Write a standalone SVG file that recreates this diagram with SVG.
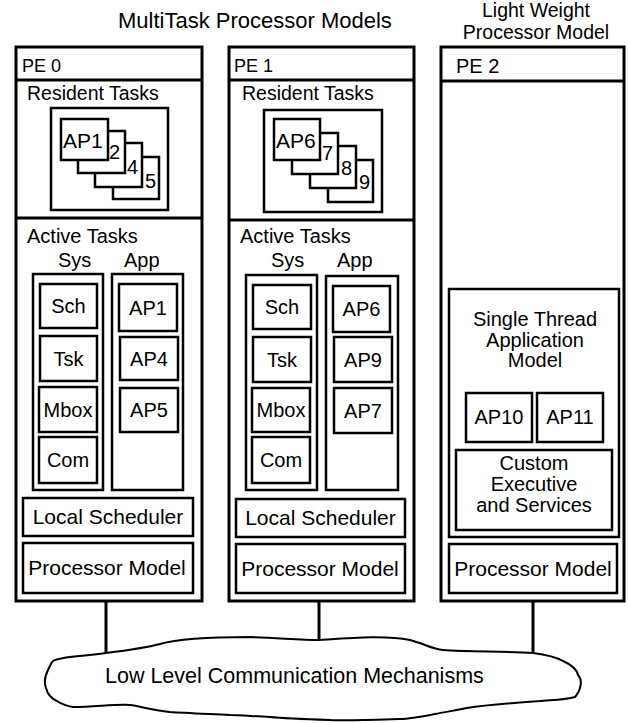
<svg xmlns="http://www.w3.org/2000/svg" width="628" height="723" viewBox="0 0 628 723">
<style>
text{font-family:"Liberation Sans",Arial,sans-serif;fill:#000}
.fr{fill:#fff;stroke:#000;stroke-width:3}
.bx{fill:#fff;stroke:#000;stroke-width:2.5}
.ln{stroke:#000;stroke-width:3;fill:none}
.t20{font-size:20px}
.t21{font-size:21px}
.t18{font-size:18px}
.c{text-anchor:middle}
</style>
<rect width="628" height="723" fill="#fff"/>
<g id="titles">
<text x="118" y="28" font-size="22">MultiTask Processor Models</text>
<text x="536" y="17" font-size="19.5" class="c">Light Weight</text>
<text x="536" y="39" font-size="19.5" class="c">Processor Model</text>
</g>
<g id="connectors">
<line class="ln" x1="106" y1="601" x2="106" y2="654"/>
<line class="ln" x1="319" y1="601" x2="319" y2="641"/>
<line class="ln" x1="533" y1="601" x2="533" y2="654"/>
</g>
<g id="pe0">
<rect class="fr" x="16" y="47" width="186" height="554"/>
<line class="ln" x1="16" y1="80" x2="202" y2="80"/>
<line class="ln" x1="16" y1="218" x2="202" y2="218"/>
<text x="22" y="72" class="t18">PE 0</text>
<g id="pe0-resident">
<text x="27" y="100" font-size="19.5">Resident Tasks</text>
<rect class="bx" x="51" y="108" width="117" height="102"/>
<rect class="bx" x="113" y="157" width="46" height="42"/>
<rect class="bx" x="95" y="143" width="47" height="44"/>
<rect class="bx" x="78" y="131" width="47" height="42"/>
<rect class="bx" x="61" y="119" width="47" height="41"/>
<text x="63" y="148" class="t21">AP1</text>
<text x="109" y="159" class="t20">2</text>
<text x="127" y="174" class="t20">4</text>
<text x="145" y="188" class="t20">5</text>
</g>
<g id="pe0-active">
<text x="27" y="243" class="t20">Active Tasks</text>
<text x="58" y="267" class="t20">Sys</text>
<text x="124" y="267" class="t20">App</text>
<rect class="bx" x="33" y="274" width="70" height="216"/>
<rect class="bx" x="112" y="274" width="71" height="216"/>
<g id="pe0-sch"><rect class="bx" x="40" y="284" width="57" height="44"/><text x="68.5" y="313" class="t20 c">Sch</text></g>
<g id="pe0-tsk"><rect class="bx" x="40" y="336" width="57" height="45"/><text x="68.5" y="366" class="t20 c">Tsk</text></g>
<g id="pe0-mbox"><rect class="bx" x="39" y="387" width="58" height="45"/><text x="68" y="417" class="t20 c">Mbox</text></g>
<g id="pe0-com"><rect class="bx" x="39" y="437" width="58" height="46"/><text x="68" y="467" class="t20 c">Com</text></g>
<g id="pe0-ap1"><rect class="bx" x="119" y="284" width="58" height="47"/><text x="148" y="315" class="t20 c">AP1</text></g>
<g id="pe0-ap4"><rect class="bx" x="120" y="337" width="58" height="43"/><text x="149" y="366" class="t20 c">AP4</text></g>
<g id="pe0-ap5"><rect class="bx" x="120" y="388" width="58" height="44"/><text x="149" y="417" class="t20 c">AP5</text></g>
</g>
<g id="pe0-sched"><rect class="bx" x="23" y="498" width="170" height="38"/><text x="108" y="524" class="t21 c">Local Scheduler</text></g>
<g id="pe0-proc"><rect class="bx" x="23" y="543" width="170" height="50"/><text x="107" y="575" class="t21 c">Processor Model</text></g>
</g>
<g id="pe1">
<rect class="fr" x="229" y="47" width="185" height="554"/>
<line class="ln" x1="229" y1="80" x2="414" y2="80"/>
<line class="ln" x1="229" y1="220" x2="414" y2="220"/>
<text x="234" y="72" class="t18">PE 1</text>
<g id="pe1-resident">
<text x="242" y="100" font-size="19.5">Resident Tasks</text>
<rect class="bx" x="264" y="110" width="118" height="102"/>
<rect class="bx" x="328" y="160" width="45" height="42"/>
<rect class="bx" x="310" y="146" width="46" height="42"/>
<rect class="bx" x="292" y="133" width="46" height="41"/>
<rect class="bx" x="274" y="119" width="46" height="41"/>
<text x="276" y="148" class="t21">AP6</text>
<text x="322" y="160" class="t20">7</text>
<text x="341" y="175" class="t20">8</text>
<text x="359" y="189" class="t20">9</text>
</g>
<g id="pe1-active">
<text x="240" y="243" class="t20">Active Tasks</text>
<text x="271" y="267" class="t20">Sys</text>
<text x="337" y="267" class="t20">App</text>
<rect class="bx" x="246" y="275" width="71" height="215"/>
<rect class="bx" x="326" y="276" width="72" height="214"/>
<g id="pe1-sch"><rect class="bx" x="253" y="285" width="58" height="44"/><text x="282" y="314" class="t20 c">Sch</text></g>
<g id="pe1-tsk"><rect class="bx" x="253" y="337" width="58" height="45"/><text x="282" y="367" class="t20 c">Tsk</text></g>
<g id="pe1-mbox"><rect class="bx" x="252" y="388" width="58" height="44"/><text x="281" y="417" class="t20 c">Mbox</text></g>
<g id="pe1-com"><rect class="bx" x="252" y="437" width="58" height="46"/><text x="281" y="467" class="t20 c">Com</text></g>
<g id="pe1-ap6"><rect class="bx" x="333" y="286" width="57" height="46"/><text x="361.5" y="316" class="t20 c">AP6</text></g>
<g id="pe1-ap9"><rect class="bx" x="334" y="337" width="58" height="45"/><text x="363" y="367" class="t20 c">AP9</text></g>
<g id="pe1-ap7"><rect class="bx" x="334" y="388" width="58" height="45"/><text x="363" y="418" class="t20 c">AP7</text></g>
</g>
<g id="pe1-sched"><rect class="bx" x="236" y="499" width="169" height="38"/><text x="320.5" y="525" class="t21 c">Local Scheduler</text></g>
<g id="pe1-proc"><rect class="bx" x="236" y="544" width="169" height="49"/><text x="320" y="576" class="t21 c">Processor Model</text></g>
</g>
<g id="pe2">
<rect class="fr" x="441" y="47" width="183" height="554"/>
<line class="ln" x1="441" y1="81" x2="624" y2="81"/>
<text x="456" y="73" class="t20">PE 2</text>
<g id="pe2-app">
<rect class="bx" x="449" y="289" width="170" height="248"/>
<text x="535" y="326" class="t20 c">Single Thread</text>
<text x="535" y="347" class="t20 c">Application</text>
<text x="535" y="367" class="t20 c">Model</text>
<g id="pe2-ap10"><rect class="bx" x="466" y="393" width="66" height="49"/><text x="499" y="424" class="t20 c">AP10</text></g>
<g id="pe2-ap11"><rect class="bx" x="537" y="393" width="66" height="49"/><text x="570" y="424" class="t20 c">AP11</text></g>
<g id="pe2-custom"><rect class="bx" x="456" y="450" width="156" height="80"/>
<text x="534" y="470" class="t20 c">Custom</text>
<text x="534" y="491" class="t20 c">Executive</text>
<text x="534" y="512" class="t20 c">and Services</text></g>
</g>
<g id="pe2-proc"><rect class="bx" x="449" y="544" width="168" height="49"/><text x="533" y="576" class="t21 c">Processor Model</text></g>
</g>
<g id="cloud">
<path fill="#fff" stroke="#000" stroke-width="2" stroke-linejoin="round" d="M53,661 C62,656 80,657 106,653 C130,650 145,648 160,644 C180,638 215,637 250,637 C280,638 300,640 319,640 C350,638 385,635 410,640 C425,644 432,649 443,650 C470,652 505,651 533,653 C548,655 556,657 563,661 C572,665 577,670 578,675 C583,680 581,690 575,697 C565,700 550,700 540,701 C510,703 485,705 467,708 C452,711 445,712 435,714 C420,717 410,719 400,719 C370,720 345,721 330,720 C300,719 280,718 270,717 C250,716 240,715 230,715 C210,714 185,713 170,712 C150,710 140,706 130,705 C115,704 95,707 73,707 C65,706 60,703 57,701 C50,698 47,692 46,688 C44,683 45,676 48,670 C50,666 51,663 53,661 Z"/>
<text x="105" y="683" font-size="21.5">Low Level Communication Mechanisms</text>
</g>
</svg>
